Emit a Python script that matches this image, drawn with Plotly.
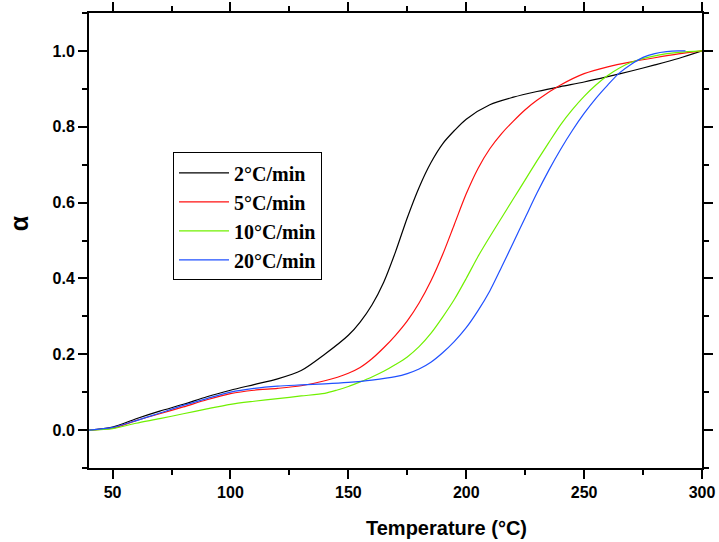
import plotly.graph_objects as go

series_names = ["2°C/min", "5°C/min", "10°C/min", "20°C/min"]
colors = ["#000000", "#FF1010", "#70F000", "#2050FF"]

T_black = [40, 50, 60, 70, 80, 90, 100, 110, 120, 130, 140, 150, 155, 160, 165, 170, 175, 180, 185, 190, 195, 200, 210, 220, 230, 240, 250, 260, 270, 280, 290, 300]
a_black = [0.0, 0.008, 0.03, 0.05, 0.068, 0.088, 0.105, 0.12, 0.135, 0.157, 0.2, 0.25, 0.285, 0.33, 0.39, 0.47, 0.56, 0.64, 0.705, 0.755, 0.79, 0.82, 0.858, 0.878, 0.893, 0.906, 0.918, 0.932, 0.947, 0.963, 0.98, 1.0]

T_red = [40, 50, 60, 70, 80, 90, 100, 110, 120, 130, 140, 150, 155, 160, 165, 170, 175, 180, 185, 190, 195, 200, 205, 210, 215, 220, 225, 230, 240, 250, 260, 270, 280, 290, 300]
a_red = [0.0, 0.005, 0.025, 0.043, 0.061, 0.08, 0.096, 0.105, 0.11, 0.117, 0.13, 0.15, 0.165, 0.188, 0.217, 0.25, 0.288, 0.335, 0.393, 0.463, 0.543, 0.623, 0.69, 0.742, 0.782, 0.815, 0.845, 0.87, 0.91, 0.94, 0.958, 0.971, 0.982, 0.992, 1.0]

T_green = [40, 50, 60, 70, 80, 90, 100, 110, 120, 130, 140, 145, 150, 155, 160, 165, 170, 175, 180, 185, 190, 195, 200, 205, 210, 215, 220, 225, 230, 235, 240, 245, 250, 255, 260, 265, 270, 280, 290, 300]
a_green = [0.0, 0.004, 0.018, 0.03, 0.043, 0.056, 0.068, 0.076, 0.083, 0.09, 0.097, 0.105, 0.115, 0.127, 0.14, 0.155, 0.173, 0.193, 0.22, 0.255, 0.298, 0.345, 0.4, 0.458, 0.51, 0.56, 0.61, 0.66, 0.71, 0.758, 0.805, 0.845, 0.88, 0.91, 0.935, 0.955, 0.97, 0.987, 0.996, 1.0]

T_blue = [40, 50, 60, 70, 80, 90, 100, 110, 120, 130, 140, 150, 160, 170, 175, 180, 185, 190, 195, 200, 205, 210, 215, 220, 225, 230, 235, 240, 245, 250, 255, 260, 265, 270, 275, 280, 285, 290, 293]
a_blue = [0.0, 0.007, 0.025, 0.045, 0.065, 0.083, 0.1, 0.11, 0.116, 0.119, 0.122, 0.126, 0.132, 0.141, 0.149, 0.161, 0.179, 0.204, 0.234, 0.27, 0.315, 0.367, 0.43, 0.495, 0.56, 0.625, 0.685, 0.74, 0.79, 0.835, 0.875, 0.91, 0.942, 0.965, 0.983, 0.993, 0.998, 1.0, 1.0]

xs = [T_black, T_red, T_green, T_blue]
ys = [a_black, a_red, a_green, a_blue]

fig = go.Figure()
for name, c, x, y in zip(series_names, colors, xs, ys):
    fig.add_trace(go.Scatter(x=x, y=y, mode="lines", name=name,
                             line=dict(color=c, width=1.2, shape="spline", smoothing=0.8)))

axis_common = dict(showline=True, linecolor="black", linewidth=2, mirror="ticks",
                   ticks="outside", ticklen=9, tickwidth=1.5, tickcolor="black",
                   showgrid=False, zeroline=False, automargin=False,
                   tickfont=dict(family="Liberation Sans, Arial", size=16, color="black", weight="bold"))

fig.update_xaxes(range=[40, 300], tick0=50, dtick=50,
                 minor=dict(dtick=25, tick0=50, ticks="outside", ticklen=5, tickwidth=1.5, tickcolor="black"),
                 **axis_common)
fig.update_yaxes(range=[-0.1, 1.1], tick0=0, dtick=0.2, tickformat=".1f",
                 minor=dict(dtick=0.1, tick0=0, ticks="outside", ticklen=5, tickwidth=1.5, tickcolor="black"),
                 **axis_common)

fig.add_annotation(text="Temperature (°C)", xref="paper", yref="paper",
                   x=(446 - 89) / 613, y=-(528 - 467.7) / 455, xanchor="center", yanchor="middle",
                   showarrow=False, font=dict(family="Liberation Sans, Arial", size=20, color="black", weight="bold"))
fig.add_annotation(text="α", xref="paper", yref="paper",
                   x=-(89 - 19) / 613, y=(467.7 - 223) / 455, xanchor="center", yanchor="middle",
                   textangle=-90, showarrow=False,
                   font=dict(family="Liberation Sans, Arial", size=25, color="black", weight="bold"))

fig.update_layout(
    width=719, height=542,
    margin=dict(l=89, r=17, t=13, b=74, autoexpand=False),
    paper_bgcolor="white", plot_bgcolor="white",
    legend=dict(x=(173 - 89) / 613, y=(467.7 - 152) / 455, xanchor="left", yanchor="top",
                bordercolor="black", borderwidth=1, bgcolor="white",
                font=dict(family="Liberation Serif, Times New Roman", size=20, color="black", weight="bold"),
                tracegroupgap=0, itemwidth=50),
    showlegend=True,
)

fig.write_html("out.html")
